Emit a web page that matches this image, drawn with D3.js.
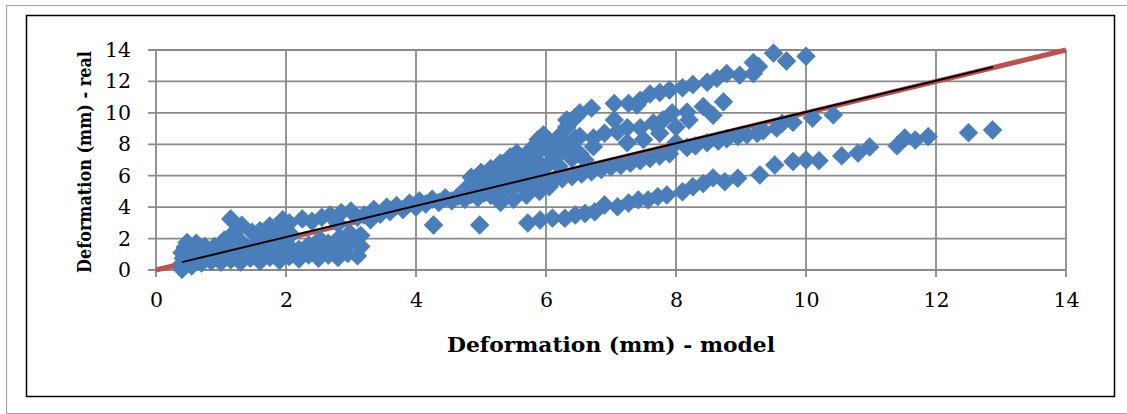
<!DOCTYPE html>
<html>
<head>
<meta charset="utf-8">
<script src="https://cdn.jsdelivr.net/npm/d3@7"></script>
<style>
  body { margin: 0; background: #fff; }
  svg { display: block; }
</style>
</head>
<body>
<div id="chart"></div>
<script>
// axis ticks
const xTicks = [0, 2, 4, 6, 8, 10, 12, 14];
const yTicks = [0, 2, 4, 6, 8, 10, 12, 14];

// dense group near the origin
const clusterX = [0.4, 0.4, 0.42, 0.4, 0.45, 0.48, 0.55, 0.55, 0.6, 0.62, 0.7, 0.72, 0.75, 0.85, 0.88, 0.9,
  1.0, 1.0, 1.05, 1.05, 1.15, 1.15, 1.18, 1.15, 1.3, 1.3, 1.32, 1.32, 1.45, 1.45, 1.48,
  1.6, 1.6, 1.62, 1.6, 1.75, 1.75, 1.78, 1.75, 1.9, 1.9, 1.92, 1.9, 1.95,
  2.05, 2.05, 2.08, 2.05, 2.2, 2.2, 2.25, 2.35, 2.35, 2.4, 2.5, 2.5, 2.52, 2.55,
  2.65, 2.65, 2.68, 2.8, 2.8, 2.82, 2.8, 2.85, 2.95, 2.95, 2.98, 3.0, 3.1, 3.12, 3.1, 3.15, 3.15];
const clusterY = [0.05, 0.4, 0.75, 1.1, 1.45, 1.75, 0.25, 0.9, 1.3, 1.7, 0.45, 1.05, 1.5, 0.55, 1.15, 1.5,
  0.5, 0.95, 1.4, 1.9, 0.65, 1.25, 2.3, 3.25, 0.5, 1.0, 1.75, 2.85, 0.75, 1.35, 2.4,
  0.55, 1.1, 1.85, 2.5, 0.8, 1.45, 2.15, 2.8, 0.6, 1.2, 1.9, 2.6, 3.2,
  0.85, 1.5, 2.25, 3.0, 0.7, 1.3, 3.25, 0.95, 1.6, 3.1, 0.75, 1.4, 1.95, 3.35,
  0.95, 1.7, 3.5, 0.8, 1.35, 2.05, 2.95, 3.65, 1.05, 1.65, 2.35, 3.75, 0.9, 2.1, 3.35, 1.5, 2.2];

// points along the 1:1 line
const bandX = [3.2, 3.3, 3.35, 3.45, 3.55, 3.6, 3.7, 3.8, 3.9, 4.0, 4.05, 4.15, 4.25, 4.35, 4.45, 4.55, 4.65, 4.75,
  4.85, 4.95, 5.05, 5.15, 5.3, 5.5, 5.7, 5.9, 6.05,
  5.2, 5.35, 5.5, 5.65, 5.8, 5.95, 6.1, 6.25, 6.4, 6.55, 6.7, 6.85, 7.0, 7.15, 7.3, 7.45, 7.6, 7.75, 7.9,
  8.0, 8.17, 8.3, 8.48, 8.65, 8.78, 8.95, 9.09, 9.25, 9.34, 9.55, 9.63, 9.8, 10.1, 10.42];
const bandY = [3.5, 3.2, 3.85, 3.55, 4.0, 3.7, 4.1, 3.85, 4.25, 4.0, 4.4, 4.2, 4.5, 4.3, 4.6, 4.4, 4.7, 4.5,
  4.8, 4.6, 4.9, 4.75, 4.3, 4.5, 4.75, 5.0, 5.3,
  5.0, 5.1, 5.2, 5.3, 5.45, 5.55, 5.65, 5.8, 5.95, 6.1, 6.25, 6.4, 6.55, 6.65, 6.8, 6.95, 7.1, 7.25, 7.4,
  8.1, 7.8, 7.9, 8.1, 8.2, 8.35, 8.5, 8.6, 8.7, 8.85, 9.03, 9.33, 9.4, 9.67, 9.87];

// fan between the line and the upper band
const midX = [4.8, 4.9, 5.0, 5.05, 5.1, 5.2, 5.25, 5.3, 5.35, 5.4, 5.45, 5.5, 5.55, 5.6, 5.65, 5.7, 5.75, 5.8,
  5.85, 5.9, 5.95, 6.0, 6.05, 6.1, 6.15, 6.2, 6.25, 6.3, 6.37, 6.4, 6.45, 6.52, 6.52, 6.6, 6.73, 6.73,
  6.9, 7.05, 7.1, 7.25, 7.25, 7.4, 7.45, 7.5, 7.65, 7.75, 7.8, 7.94, 8.0, 8.17, 8.2, 8.42, 8.57, 8.73];
const midY = [5.3, 5.7, 5.2, 6.0, 5.5, 5.9, 5.3, 6.3, 5.7, 6.6, 6.0, 5.5, 6.9, 6.3, 5.8, 7.3, 6.6, 6.0,
  7.0, 7.6, 6.4, 7.9, 6.8, 7.3, 8.2, 6.6, 7.6, 8.0, 7.9, 7.1, 8.4, 8.5, 7.4, 7.0, 8.4, 7.85,
  8.7, 9.55, 8.8, 9.05, 8.1, 10.5, 9.05, 8.3, 9.35, 8.7, 9.55, 10.0, 9.1, 10.05, 9.55, 10.4, 9.85, 10.7];

// upper band
const upperX = [4.85, 5.0, 5.15, 5.3, 5.45, 5.55, 5.65, 5.8, 5.88, 5.96, 6.2, 6.32, 6.32, 6.45, 6.52, 6.7,
  7.05, 7.27, 7.45, 7.6, 7.75, 7.9, 8.1, 8.26, 8.48, 8.63, 8.78, 8.98, 9.19, 9.19, 9.27, 9.5, 9.7, 10.0];
const upperY = [5.9, 6.2, 6.45, 6.8, 7.2, 7.45, 7.2, 7.8, 8.3, 8.6, 8.5, 9.1, 9.55, 9.7, 10.0, 10.3,
  10.6, 10.6, 10.8, 11.2, 11.3, 11.45, 11.6, 11.8, 11.95, 12.2, 12.5, 12.4, 12.5, 13.2, 12.95, 13.8, 13.3, 13.6];

// lower band
const lowerX = [5.72, 5.91, 6.1, 6.29, 6.45, 6.6, 6.75, 6.9, 7.1, 7.27, 7.42, 7.57, 7.72, 7.86, 8.1, 8.26,
  8.42, 8.57, 8.75, 8.95, 9.29, 9.52, 9.8, 10.0, 10.2, 10.55, 10.8, 10.98, 11.4, 11.52, 11.68, 11.88, 12.5, 12.87];
const lowerY = [2.99, 3.18, 3.3, 3.29, 3.5, 3.6, 3.7, 4.14, 4.03, 4.26, 4.46, 4.46, 4.67, 4.77, 4.98, 5.3,
  5.5, 5.86, 5.62, 5.84, 6.05, 6.68, 6.9, 7.0, 6.96, 7.26, 7.44, 7.83, 7.9, 8.4, 8.27, 8.49, 8.74, 8.91];

// isolated points
const outlierX = [4.27, 4.98];
const outlierY = [2.86, 2.86];

// reference 1:1 line and linear trend
const refX = [0, 14];
const refY = [0, 14];
const trendX = [0.4, 12.88];
const trendY = [0.5, 12.92];

const W = 1127, H = 414;

const svg = d3.select('#chart')
  .append('svg')
  .attr('width', W)
  .attr('height', H)
  .style('background', '#fff');

// outer frame (cut off on the right) and chart border
svg.append('path')
  .attr('d', `M${W},5.5 H6.5 V413.5 H${W}`)
  .attr('fill', 'none')
  .attr('stroke', '#a6a6a6')
  .attr('stroke-width', 1.2);

svg.append('rect')
  .attr('x', 26.5).attr('y', 15.5)
  .attr('width', 1088).attr('height', 381)
  .attr('fill', '#fff')
  .attr('stroke', '#000')
  .attr('stroke-width', 1.5);

const x = d3.scaleLinear().domain([0, 14]).range([156, 1066]);
const y = d3.scaleLinear().domain([0, 14]).range([270, 50]);

// gridlines
const grid = svg.append('g')
  .attr('stroke', '#8a8a8a')
  .attr('stroke-width', 1.8);

grid.selectAll('.vg')
  .data(xTicks)
  .enter()
  .append('line')
  .attr('x1', d => x(d)).attr('x2', d => x(d))
  .attr('y1', y(0) + 7).attr('y2', y(14));

grid.selectAll('.hg')
  .data(yTicks)
  .enter()
  .append('line')
  .attr('x1', x(0) - 8).attr('x2', x(14))
  .attr('y1', d => y(d)).attr('y2', d => y(d));

// axes (labels only, lines come from the grid)
const xAxis = svg.append('g')
  .attr('transform', `translate(0,${y(0)})`)
  .call(d3.axisBottom(x).tickValues(xTicks).tickSize(7).tickPadding(15));

const yAxis = svg.append('g')
  .attr('transform', `translate(${x(0)},0)`)
  .call(d3.axisLeft(y).tickValues(yTicks).tickSize(8).tickPadding(17));

[xAxis, yAxis].forEach(a => {
  a.select('.domain').remove();
  a.selectAll('.tick line').remove();
  a.selectAll('text')
    .style('font-family', '"DejaVu Serif", serif')
    .style('font-size', '20.5px')
    .attr('fill', '#000');
});

// 1:1 line
const line = d3.line()
  .x(d => x(d[0]))
  .y(d => y(d[1]));

svg.append('path')
  .datum(refX.map((v, i) => [v, refY[i]]))
  .attr('d', line)
  .attr('fill', 'none')
  .attr('stroke', '#c0504d')
  .attr('stroke-width', 5);

// scatter points
const points = [];
[[clusterX, clusterY], [bandX, bandY], [midX, midY], [upperX, upperY], [lowerX, lowerY], [outlierX, outlierY]]
  .forEach(([xs, ys]) => xs.forEach((v, i) => points.push([v, ys[i]])));

const diamond = d3.symbol().type(d3.symbolDiamond2).size(228);

svg.append('g')
  .selectAll('path')
  .data(points)
  .enter()
  .append('path')
  .attr('d', diamond)
  .attr('transform', d => `translate(${x(d[0])},${y(d[1])})`)
  .attr('fill', '#4a7ebb')
  .attr('stroke', '#4a7ebb')
  .attr('stroke-width', 0.6);

// trend line
svg.append('path')
  .datum(trendX.map((v, i) => [v, trendY[i]]))
  .attr('d', line)
  .attr('fill', 'none')
  .attr('stroke', '#000')
  .attr('stroke-width', 2);

// axis titles
svg.append('text')
  .attr('x', 611)
  .attr('y', 352)
  .attr('text-anchor', 'middle')
  .attr('textLength', 328)
  .attr('lengthAdjust', 'spacingAndGlyphs')
  .style('font-family', '"DejaVu Serif", serif')
  .style('font-size', '21px')
  .style('font-weight', 'bold')
  .text('Deformation (mm) - model');

svg.append('text')
  .attr('transform', 'translate(91,162) rotate(-90)')
  .attr('text-anchor', 'middle')
  .attr('textLength', 222)
  .attr('lengthAdjust', 'spacingAndGlyphs')
  .style('font-family', '"DejaVu Serif", serif')
  .style('font-size', '19px')
  .style('font-weight', 'bold')
  .text('Deformation (mm) - real');
</script>
</body>
</html>
